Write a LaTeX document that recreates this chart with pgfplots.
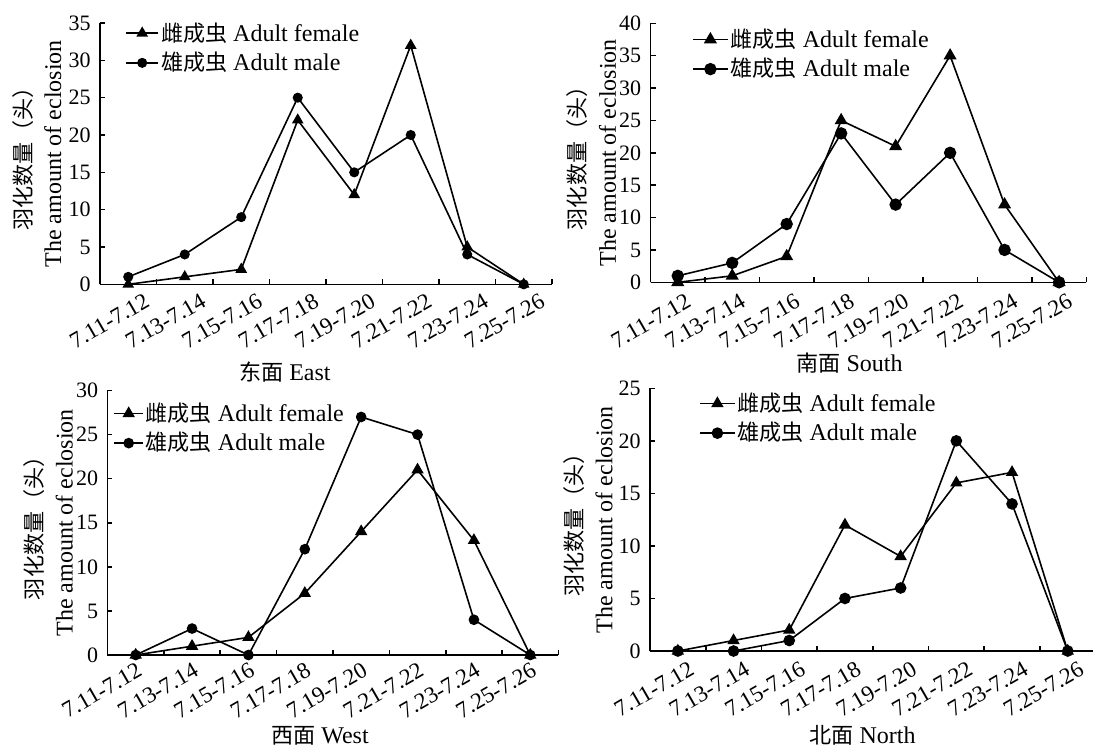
\documentclass[border=0pt]{standalone}
\usepackage{fontspec}
\setmainfont{Liberation Serif}
\newfontfamily\cjk{Noto Sans CJK SC}[Scale=0.92]
\usepackage{pgfplots}
\pgfplotsset{compat=1.18}

\newcommand\xtf{\fontsize{11.5}{13}\selectfont}
\pgfplotsset{
  panel/.style={
    scale only axis, anchor=south west,
    axis x line=bottom, axis y line=left,
    axis line style={-, line width=0.8pt, black},
    xmin=-0.5, xmax=7.5, ymin=0,
    xtick={-0.5,0.5,...,7.5}, x tick label as interval,
    xticklabels={7.11-7.12,7.13-7.14,7.15-7.16,7.17-7.18,7.19-7.20,7.21-7.22,7.23-7.24,7.25-7.26},
    tick align=inside, major tick length=2.5pt,
    tick style={line width=0.8pt, black},
    ytick distance=5,
    /pgf/number format/assume math mode=true,
    yticklabel style={font=\fontsize{11}{13}\selectfont, xshift=-1.2pt},
    ylabel={{\cjk 羽化数量（头）}\\The amount of eclosion},
    ylabel style={anchor=center, align=center, font=\fontsize{12}{15}\selectfont},
    xlabel style={anchor=center, font=\fontsize{12}{14}\selectfont},
    legend cell align=left,
    legend style={draw=none, fill=none, anchor=north west, inner sep=0pt,
      row sep=2pt, font=\fontsize{12}{14}\selectfont,
      nodes={inner sep=1pt},
      /tikz/every even column/.append style={column sep=1.5pt}},
  },
  fem/.style={black, line width=0.8pt, mark=triangle*, mark options={solid, fill=black}},
  mal/.style={black, line width=0.8pt, mark=*, mark options={solid, fill=black}},
}

\begin{document}
\begin{tikzpicture}
\path[use as bounding box] (0,0) rectangle (546.5pt,-373pt);

% East
\begin{axis}[panel, at={(50pt,-142.15pt)}, width=226pt, height=130.65pt,
  ymax=35,
  xticklabel style={font=\xtf, xshift=11.5pt, yshift=-10.5pt, rotate=30, anchor=base east, inner sep=0pt},
  ylabel style={at={(axis description cs:-0.1398,0.5)}},
  xlabel={{\cjk 东面} East},
  xlabel style={at={(axis description cs:0.409,-0.3356)}},
  legend style={at={(axis description cs:0,1)}, xshift=12.5pt, yshift=1.5pt},
  legend image code/.code={\draw[mark repeat=2,mark phase=2,#1] plot coordinates {(0pt,0pt) (8pt,0pt) (16pt,0pt)};},
]
\addplot[fem, mark size=2.6pt] coordinates {(0,0) (1,1) (2,2) (3,22) (4,12) (5,32) (6,5) (7,0)};
\addlegendentry{{\cjk 雌成虫} Adult female}
\addplot[mal, mark size=2.1pt] coordinates {(0,1) (1,4) (2,9) (3,25) (4,15) (5,20) (6,4) (7,0)};
\addlegendentry{{\cjk 雄成虫} Adult male}
\end{axis}

% South
\begin{axis}[panel, at={(325.25pt,-141.15pt)}, width=217.9pt, height=129.5pt,
  ymax=40,
  xticklabel style={font=\xtf, xshift=7.5pt, yshift=-11.5pt, rotate=30, anchor=base east, inner sep=0pt},
  ylabel style={at={(axis description cs:-0.1354,0.5)}},
  xlabel={{\cjk 南面} South},
  xlabel style={at={(axis description cs:0.4566,-0.3116)}},
  legend style={at={(axis description cs:0,1)}, xshift=20.75pt, yshift=-1.5pt},
  legend image code/.code={\draw[mark repeat=2,mark phase=2,#1] plot coordinates {(0pt,0pt) (8.6pt,0pt) (17.3pt,0pt)};},
]
\addplot[fem, mark size=3pt] coordinates {(0,0) (1,1) (2,4) (3,25) (4,21) (5,35) (6,12) (7,0)};
\addlegendentry{{\cjk 雌成虫} Adult female}
\addplot[mal, mark size=2.7pt] coordinates {(0,1) (1,3) (2,9) (3,23) (4,12) (5,20) (6,5) (7,0)};
\addlegendentry{{\cjk 雄成虫} Adult male}
\end{axis}

% West
\begin{axis}[panel, at={(53.75pt,-327.5pt)}, width=225.5pt, height=132.25pt,
  ymax=30,
  xticklabel style={font=\xtf, xshift=4pt, yshift=-10pt, rotate=30, anchor=base east, inner sep=0pt},
  ylabel style={at={(axis description cs:-0.1315,0.5)}},
  xlabel={{\cjk 西面} West},
  xlabel style={at={(axis description cs:0.471,-0.306)}},
  legend style={at={(axis description cs:0,1)}, xshift=2.9pt, yshift=-4.9pt},
  legend image code/.code={\draw[mark repeat=2,mark phase=2,#1] plot coordinates {(0pt,0pt) (7.1pt,0pt) (14.2pt,0pt)};},
]
\addplot[fem, mark size=2.8pt] coordinates {(0,0) (1,1) (2,2) (3,7) (4,14) (5,21) (6,13) (7,0)};
\addlegendentry{{\cjk 雌成虫} Adult female}
\addplot[mal, mark size=2.25pt] coordinates {(0,0) (1,3) (2,0) (3,12) (4,27) (5,25) (6,4) (7,0)};
\addlegendentry{{\cjk 雄成虫} Adult male}
\end{axis}

% North
\begin{axis}[panel, at={(325pt,-325.5pt)}, width=222.8pt, height=131.35pt,
  ymax=25,
  xticklabel style={font=\xtf, xshift=9pt, yshift=-11.3pt, rotate=30, anchor=base east, inner sep=0pt},
  ylabel style={at={(axis description cs:-0.1391,0.5)}},
  xlabel={{\cjk 北面} North},
  xlabel style={at={(axis description cs:0.477,-0.3198)}},
  legend style={at={(axis description cs:0,1)}, xshift=24.5pt, yshift=-1pt},
  legend image code/.code={\draw[mark repeat=2,mark phase=2,#1] plot coordinates {(0pt,0pt) (8.6pt,0pt) (17.2pt,0pt)};},
]
\addplot[fem, mark size=2.8pt] coordinates {(0,0) (1,1) (2,2) (3,12) (4,9) (5,16) (6,17) (7,0)};
\addlegendentry{{\cjk 雌成虫} Adult female}
\addplot[mal, mark size=2.5pt] coordinates {(0,0) (1,0) (2,1) (3,5) (4,6) (5,20) (6,14) (7,0)};
\addlegendentry{{\cjk 雄成虫} Adult male}
\end{axis}
\end{tikzpicture}
\end{document}
